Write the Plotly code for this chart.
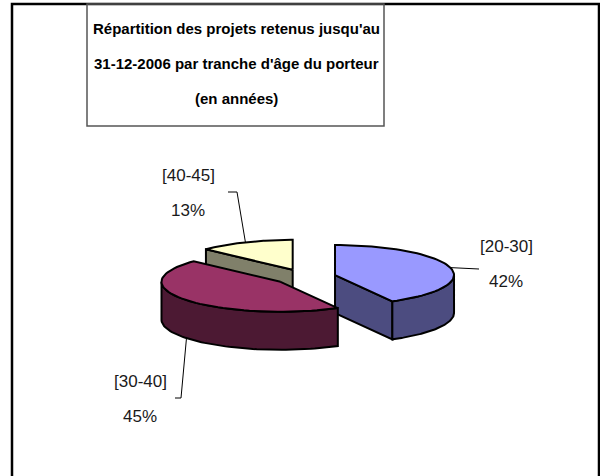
import numpy as np
import plotly.graph_objects as go

# data
categories = ['[20-30]', '[30-40]', '[40-45]']
shares = [42, 45, 13]
top_colours = ['#9999FF', '#993366', '#FFFFCC']
side_colours = ['#4C4C80', '#4C1933', '#80806A']
title_lines = ["Répartition des projets retenus jusqu'au",
               "31-12-2006 par tranche d'âge du porteur",
               "(en années)"]

# look of the tilted pie (pixels, y pointing down)
cx, cy = 305, 277
rx, ry = 119, 30
depth = 38
explode = 31
font_fam = 'Liberation Sans, Arial, sans-serif'

# label centre (first line) and leader elbow / end for each slice
label_xy = [(506, 246), (140, 381), (188, 175)]
leader_pts = [[(479, 269)], [(181, 398), (175, 398)], [(237, 192), (228, 192)]]
line_gap = 35


def arc(ax, ay, t0, t1, down=0, n=60):
    t = np.radians(np.linspace(t0, t1, n))
    return ax + rx * np.cos(t), ay - ry * np.sin(t) + down


fig = go.Figure()
total = sum(shares)
cum = np.cumsum([0] + shares) / total
slices = []
for i, v in enumerate(shares):
    t1 = 90 - 360 * cum[i]
    t0 = 90 - 360 * cum[i + 1]
    mid = (t0 + t1) / 2
    ax = cx + explode * np.cos(np.radians(mid))
    ay = cy - explode * (ry / rx) * np.sin(np.radians(mid))
    slices.append((ay, i, t0, t1, mid, ax))


def poly(xs, ys, colour):
    fig.add_trace(go.Scatter(x=list(xs), y=list(ys), mode='lines', fill='toself',
                             fillcolor=colour, line=dict(color='black', width=2),
                             hoverinfo='skip', showlegend=False))


# back to front
for ay, i, t0, t1, mid, ax in sorted(slices):
    # walls facing the viewer
    for th, vis in ((t0, np.cos(np.radians(t0)) > 1e-6), (t1, np.cos(np.radians(t1)) < -1e-6)):
        if vis:
            px = ax + rx * np.cos(np.radians(th))
            py = ay - ry * np.sin(np.radians(th))
            poly([ax, px, px, ax, ax], [ay, py, py + depth, ay + depth, ay], side_colours[i])
    # outer side, front half only
    lo, hi = max(t0, -180), min(t1, 0)
    if hi > lo:
        xa, ya = arc(ax, ay, lo, hi)
        xb, yb = arc(ax, ay, hi, lo, down=depth)
        poly(np.r_[xa, xb, xa[:1]], np.r_[ya, yb, ya[:1]], side_colours[i])
    # top face
    xa, ya = arc(ax, ay, t0, t1)
    poly(np.r_[ax, xa, ax], np.r_[ay, ya, ay], top_colours[i])

# labels and leader lines
for ay, i, t0, t1, mid, ax in slices:
    m = np.radians(mid)
    sx = ax + rx * np.cos(m)
    sy = ay - ry * np.sin(m) + (depth if np.sin(m) < 0 else 0)
    pts = [(sx, sy)] + leader_pts[i]
    fig.add_trace(go.Scatter(x=[p[0] for p in pts], y=[p[1] for p in pts], mode='lines',
                             line=dict(color='black', width=1), hoverinfo='skip',
                             showlegend=False))
    lx, ly = label_xy[i]
    for k, txt in enumerate([categories[i], f'{round(100 * shares[i] / total)}%']):
        fig.add_annotation(x=lx, y=ly + line_gap * k, text=txt, showarrow=False,
                           font=dict(family=font_fam, size=17, color='#1a1a1a'))

# title
for k, line in enumerate(title_lines):
    fig.add_annotation(x=236, y=28 + 35 * k, text=f'<b>{line}</b>', showarrow=False,
                       font=dict(family=font_fam, size=15, color='black'))

fig.update_layout(
    width=600, height=476,
    margin=dict(l=0, r=0, t=0, b=0),
    paper_bgcolor='white', plot_bgcolor='white',
    xaxis=dict(range=[0, 600], visible=False, fixedrange=True),
    yaxis=dict(range=[476, 0], visible=False, fixedrange=True),
    shapes=[
        dict(type='rect', x0=12, y0=4, x1=599, y1=490, line=dict(color='black', width=2.5)),
        dict(type='rect', x0=87, y0=4, x1=384, y1=126, line=dict(color='#555555', width=1.5)),
    ],
)
# no page margin so the figure sits at the window's corner
fig.write_html("out.html", config={'displayModeBar': False},
               post_script="document.body.style.margin='0';")
